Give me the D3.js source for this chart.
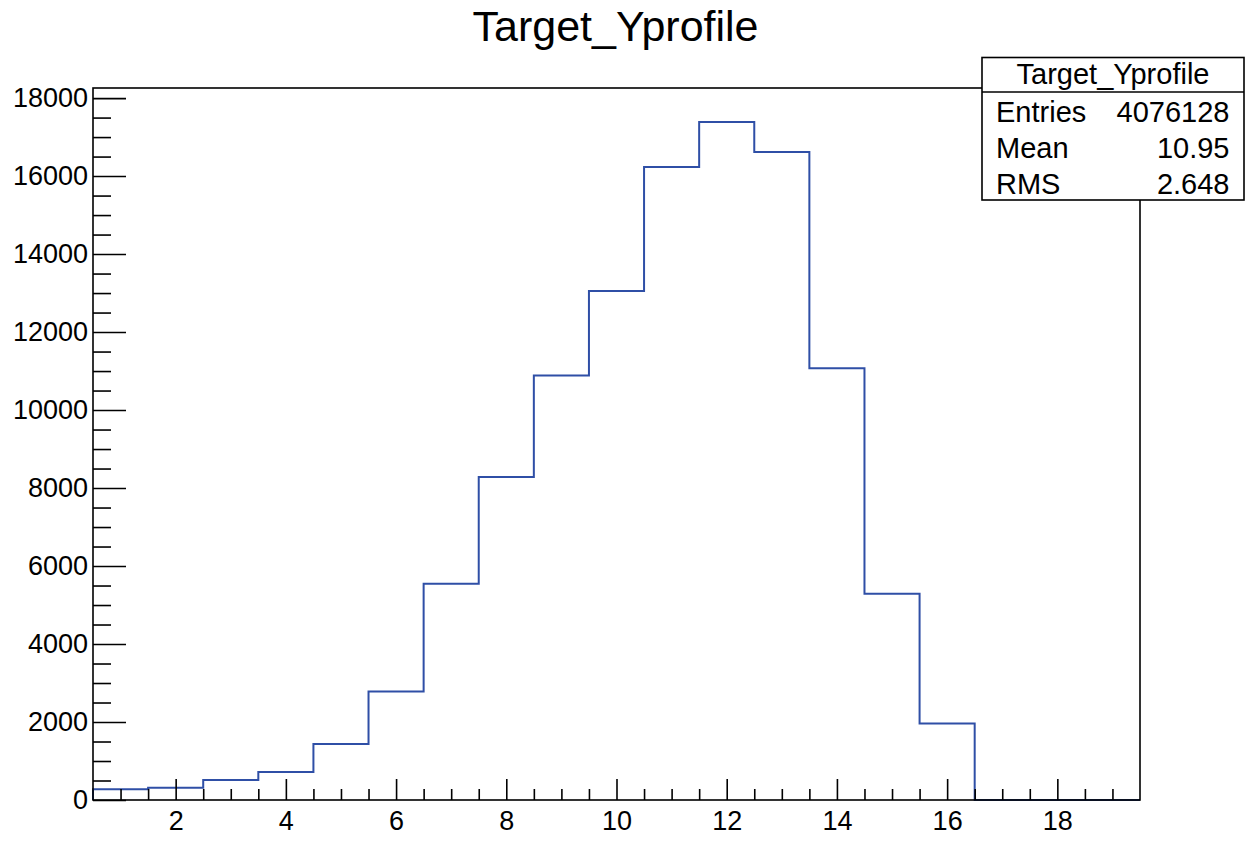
<!DOCTYPE html>
<html>
<head>
<meta charset="utf-8">
<script src="https://cdn.jsdelivr.net/npm/d3@7/dist/d3.min.js"></script>
<style>
  html, body { margin: 0; padding: 0; background: #fff; }
  svg { display: block; font-family: "Liberation Sans", Arial, Helvetica, sans-serif; }
</style>
</head>
<body>
<svg id="chart" width="1246" height="841"></svg>
<script>
// Histogram contents: one bin per integer, bin edges at half-integers
const binCenters = [1, 2, 3, 4, 5, 6, 7, 8, 9, 10, 11, 12, 13, 14, 15, 16, 17, 18, 19];
const binCounts  = [275, 316, 513, 719, 1438, 2780, 5545, 8285, 10886, 13050,
                    16234, 17389, 16619, 11073, 5289, 1959, 0, 0, 0];
const binWidth = 1;

const xMajorTicks = [2, 4, 6, 8, 10, 12, 14, 16, 18];
const yMajorTicks = [0, 2000, 4000, 6000, 8000, 10000, 12000, 14000, 16000, 18000];

const histTitle = "Target_Yprofile";
const statLabels = ["Entries", "Mean", "RMS"];
const statValues = ["4076128", "10.95", "2.648"];

// Frame geometry
const frame = { left: 93, right: 1140, top: 88, bottom: 800 };

const svg = d3.select("#chart");

const xLo = binCenters[0] - binWidth / 2;
const xHi = binCenters[binCenters.length - 1] + binWidth / 2;
const x = d3.scaleLinear().domain([xLo, xHi]).range([frame.left, frame.right]);
const yTop = d3.max(binCounts) * 1.05;
const y = d3.scaleLinear().domain([0, yTop]).range([frame.bottom, frame.top]);

// Step outline of the histogram
const verts = [[xLo, 0]];
binCenters.forEach((c, i) => {
  verts.push([c - binWidth / 2, binCounts[i]]);
  verts.push([c + binWidth / 2, binCounts[i]]);
});
verts.push([xHi, 0]);

svg.append("path")
  .datum(verts)
  .attr("fill", "none")
  .attr("stroke", "#2f4fa6")
  .attr("stroke-width", 2)
  .attr("stroke-linejoin", "miter")
  .attr("d", d3.line().x(d => x(d[0])).y(d => y(d[1])));

// Minor tick values
const xMinor = d3.range(xLo + 0.5, xHi, 0.5).filter(v => !xMajorTicks.includes(v));
const yMinor = d3.range(500, yTop, 500).filter(v => !yMajorTicks.includes(v));

const fontTick = 27;

// X axis: ticks point into the frame
const gx = svg.append("g").attr("transform", `translate(0,${frame.bottom})`);
gx.call(d3.axisBottom(x).tickValues(xMajorTicks).tickSize(-21).tickPadding(11)
  .tickFormat(d3.format("d")));
gx.append("g").call(d3.axisBottom(x).tickValues(xMinor).tickSize(-11).tickFormat(""));

// Y axis
const gy = svg.append("g").attr("transform", `translate(${frame.left},0)`);
gy.call(d3.axisLeft(y).tickValues(yMajorTicks).tickSize(-33).tickPadding(5)
  .tickFormat(d3.format("d")));
gy.append("g").call(d3.axisLeft(y).tickValues(yMinor).tickSize(-18).tickFormat(""));

svg.selectAll(".domain").remove();
svg.selectAll(".tick line").attr("stroke", "#000").attr("stroke-width", 1.6);
svg.selectAll(".tick text")
  .attr("fill", "#000")
  .style("font-size", fontTick + "px")
  .style("font-family", '"Liberation Sans", Arial, Helvetica, sans-serif');

// Frame
svg.append("rect")
  .attr("x", frame.left).attr("y", frame.top)
  .attr("width", frame.right - frame.left)
  .attr("height", frame.bottom - frame.top)
  .attr("fill", "none")
  .attr("stroke", "#000")
  .attr("stroke-width", 1.6);

// Title
svg.append("text")
  .attr("x", 615.5).attr("y", 41)
  .attr("text-anchor", "middle")
  .style("font-size", "43px")
  .attr("fill", "#000")
  .text(histTitle);

// Statistics box
const box = { left: 982, right: 1244, top: 57.5, bottom: 200, header: 92 };
const gs = svg.append("g");
gs.append("rect")
  .attr("x", box.left).attr("y", box.top)
  .attr("width", box.right - box.left).attr("height", box.bottom - box.top)
  .attr("fill", "#fff").attr("stroke", "#000").attr("stroke-width", 1.6);
gs.append("line")
  .attr("x1", box.left).attr("x2", box.right)
  .attr("y1", box.header).attr("y2", box.header)
  .attr("stroke", "#000").attr("stroke-width", 1.6);
gs.append("text")
  .attr("x", (box.left + box.right) / 2).attr("y", 84)
  .attr("text-anchor", "middle")
  .style("font-size", "29px")
  .text(histTitle);

const rowBase = [122, 158, 194];
statLabels.forEach((lab, i) => {
  gs.append("text")
    .attr("x", 996).attr("y", rowBase[i])
    .style("font-size", "29px")
    .text(lab);
  gs.append("text")
    .attr("x", 1229.5).attr("y", rowBase[i])
    .attr("text-anchor", "end")
    .style("font-size", "29px")
    .text(statValues[i]);
});
</script>
</body>
</html>
